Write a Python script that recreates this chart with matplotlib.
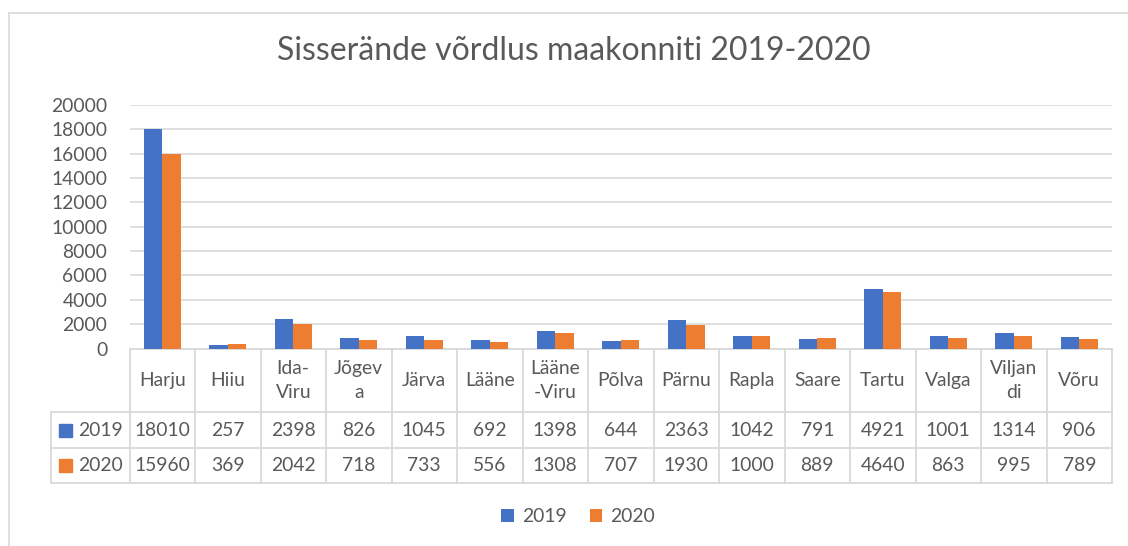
import matplotlib
matplotlib.use("Agg")
import matplotlib.pyplot as plt
from matplotlib.transforms import blended_transform_factory
from matplotlib.lines import Line2D
import numpy as np

categories = ["Harju", "Hiiu", "Ida-\nViru", "Jõgev\na", "Järva", "Lääne", "Lääne\n-Viru",
              "Põlva", "Pärnu", "Rapla", "Saare", "Tartu", "Valga", "Viljan\ndi", "Võru"]
v2019 = [18010, 257, 2398, 826, 1045, 692, 1398, 644, 2363, 1042, 791, 4921, 1001, 1314, 906]
v2020 = [15960, 369, 2042, 718, 733, 556, 1308, 707, 1930, 1000, 889, 4640, 863, 995, 789]
series_names = ["2019", "2020"]
y_ticks = list(range(0, 20001, 2000))

W, H = 1128, 546
BLUE = "#4472C4"
ORANGE = "#ED7D31"
GRID = "#D9D9D9"
TXT = "#595959"
FONT = "Lato"
FS = 13.9

plt.rcParams['font.family'] = [FONT, 'DejaVu Sans']

def fx(x):
    return x / W

def fy(y):
    return 1 - y / H

fig = plt.figure(figsize=(W / 100, H / 100), dpi=100)
fig.patch.set_facecolor("white")

left, right, top, bottom = 129.5, 1112, 105, 348.5
ax = fig.add_axes([fx(left), fy(bottom), fx(right) - fx(left), fy(top) - fy(bottom)])

n = len(categories)
x = np.arange(n)
bw = 0.285
b1 = ax.bar(x - bw / 2, v2019, bw, color=BLUE, label=series_names[0], zorder=3)
b2 = ax.bar(x + bw / 2, v2020, bw, color=ORANGE, label=series_names[1], zorder=3)

ax.set_xlim(-0.5, n - 0.5)
ax.set_ylim(0, 20000)
ax.set_yticks(y_ticks)
ax.set_yticklabels([str(t) for t in y_ticks], fontsize=FS, color=TXT)
ax.tick_params(axis='y', length=0, pad=16)
ax.set_xticks([])
for s in ax.spines.values():
    s.set_visible(False)
ax.yaxis.grid(True, color=GRID, linewidth=1.2, zorder=0)
ax.set_axisbelow(True)

# Title
fig.text(fx(574), fy(51), "Sisserände võrdlus maakonniti 2019-2020", ha="center", va="center",
         fontsize=23, color=TXT)

# Data table
tr = blended_transform_factory(ax.transData, fig.transFigure)
row_cat_top, row1_top, row2_top, tbl_bottom = 349, 412, 448, 483
lw = 1.3
ax.add_line(Line2D([-0.5, n - 0.5], [fy(row_cat_top)] * 2, transform=tr, color=GRID, lw=lw, clip_on=False))
for yy in (row1_top, row2_top, tbl_bottom):
    fig.add_artist(Line2D([fx(51), fx(right)], [fy(yy)] * 2, color=GRID, lw=lw))
for i in range(n + 1):
    ax.add_line(Line2D([i - 0.5, i - 0.5], [fy(row_cat_top), fy(tbl_bottom)], transform=tr,
                       color=GRID, lw=lw, clip_on=False))
fig.add_artist(Line2D([fx(51), fx(51)], [fy(row1_top), fy(tbl_bottom)], color=GRID, lw=lw))

for i, c in enumerate(categories):
    ax.text(i, fy((row_cat_top + row1_top) / 2), c, transform=tr, ha="center", va="center",
            fontsize=FS, color=TXT, linespacing=1.55)
    ax.text(i, fy((row1_top + row2_top) / 2), str(v2019[i]), transform=tr, ha="center",
            va="center", fontsize=FS, color=TXT)
    ax.text(i, fy((row2_top + tbl_bottom) / 2), str(v2020[i]), transform=tr, ha="center",
            va="center", fontsize=FS, color=TXT)

for (ytop, ybot), name, col in (((row1_top, row2_top), series_names[0], BLUE),
                                ((row2_top, tbl_bottom), series_names[1], ORANGE)):
    yc = (ytop + ybot) / 2
    fig.patches.append(plt.Rectangle((fx(59), fy(yc + 6.5)), fx(13), 13 / H, color=col,
                                     transform=fig.transFigure, figure=fig))
    fig.text(fx(78), fy(yc), name, ha="left", va="center", fontsize=FS, color=TXT)

# Legend
leg = fig.legend(handles=[b1, b2], labels=series_names, loc="center", bbox_to_anchor=(fx(578), fy(517)),
                 ncol=2, frameon=False, fontsize=FS, handlelength=0.65, handleheight=0.65,
                 handletextpad=0.4, columnspacing=1.2, labelcolor=TXT)

# chart border
fig.add_artist(Line2D([fx(8.5), 1], [fy(12.5)] * 2, color=GRID, lw=1.2))
fig.add_artist(Line2D([fx(8.5)] * 2, [fy(12.5), 0], color=GRID, lw=1.2))

fig.savefig("out.png", dpi=100)
